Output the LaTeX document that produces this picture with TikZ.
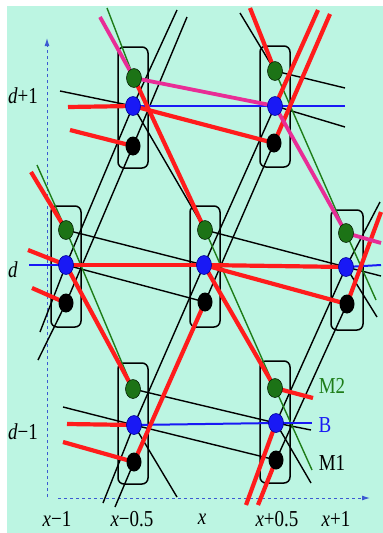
\documentclass[tikz,border=0pt]{standalone}
\usepackage{fontspec}
\usepackage{graphicx}
\setmainfont{Liberation Serif}
\usetikzlibrary{calc,arrows.meta,shapes.geometric}
\definecolor{bgc}{RGB}{188,245,226}
\definecolor{myred}{RGB}{255,28,28}
\definecolor{mypink}{RGB}{232,45,150}
\definecolor{mygreen}{RGB}{30,125,25}
\definecolor{dotgreen}{RGB}{28,115,22}
\definecolor{myblue}{RGB}{25,25,245}
\definecolor{axisblue}{RGB}{60,90,210}
\newcommand{\lbl}[1]{\scalebox{1}[1.2]{#1}}
\begin{document}
\begin{tikzpicture}[x=1pt,y=-1pt,
  thinb/.style={line width=1.4pt, black},
  thing/.style={line width=1.4pt, mygreen},
  thinu/.style={line width=2pt, myblue},
  redl/.style={line width=4.2pt, myred},
  pinkl/.style={line width=3.8pt, mypink},
  grpbox/.style={draw, line width=1.5pt, rounded corners=6pt, minimum width=30pt, minimum height=121pt, inner sep=0pt},
  dotn/.style={ellipse, minimum width=15pt, minimum height=19pt, inner sep=0pt},
  gdot/.style={dotn, fill=dotgreen, draw=black!70!dotgreen, line width=0.6pt},
  udot/.style={dotn, fill=myblue, draw=blue!60!black, line width=0.6pt},
  kdot/.style={dotn, fill=black},
  axisl/.style={line width=1pt, axisblue, dash pattern=on 3pt off 3pt, -{Latex[length=8pt,width=5pt]}},
  txt/.style={font=\fontsize{19}{19}\selectfont, inner sep=0pt}
]
% background
\fill[white] (0,0) rectangle (383,533);
\fill[bgc] (7,6) rectangle (383,533);
\useasboundingbox (0,0) rectangle (383,533);

% axes
\coordinate (ax0) at (47,497);
\coordinate (ax1) at (47,38);
\coordinate (ay0) at (58,498);
\coordinate (ay1) at (370,498);
\draw[axisl] (ax0) -- (ax1);
\draw[axisl] (ay0) -- (ay1);

% group centres (g = M2 green, b = B blue, k = M1 black)
\coordinate (TLg) at (134,78);  \coordinate (TLb) at (133,106); \coordinate (TLk) at (133,146);
\coordinate (TRg) at (275,71);  \coordinate (TRb) at (275,106); \coordinate (TRk) at (274,143);
\coordinate (Lg) at (66,230);   \coordinate (Lb) at (66,265);   \coordinate (Lk) at (66,303);
\coordinate (Mg) at (205,230);  \coordinate (Mb) at (204,265);  \coordinate (Mk) at (205,302);
\coordinate (Rg) at (346,233);  \coordinate (Rb) at (346,267);  \coordinate (Rk) at (347,304);
\coordinate (Pg) at (133,389);  \coordinate (Pb) at (134,425);  \coordinate (Pk) at (134,462);
\coordinate (Qg) at (275,388);  \coordinate (Qb) at (276,423);  \coordinate (Qk) at (276,460);

% boxes
\node[grpbox] (TLbox) at (133,107.5) {};
\node[grpbox] (TRbox) at (275,106.5) {};
\node[grpbox] (Lbox) at (66,266.5) {};
\node[grpbox] (Mbox) at (205,266.5) {};
\node[grpbox, minimum width=32pt, minimum height=120pt] (Rbox) at (347,270) {};
\node[grpbox] (Pbox) at (133,423.5) {};
\node[grpbox, minimum height=122pt] (Qbox) at (275,422) {};

% stub ends
\coordinate (h1) at (60,91);   \coordinate (h2) at (68,107);  \coordinate (h3) at (70,130);
\coordinate (h4) at (345,88);  \coordinate (h5) at (345,106); \coordinate (h6) at (345,127);
\coordinate (h7) at (28,250);  \coordinate (h8) at (29,265);  \coordinate (h9) at (32,288);
\coordinate (h10) at (381,243); \coordinate (h11) at (381,265); \coordinate (h12) at (381,276);
\coordinate (h13) at (63,407); \coordinate (h14) at (67,424); \coordinate (h15) at (63,442);
\coordinate (h16) at (313,398); \coordinate (h17) at (312,423); \coordinate (h18) at (311,430);
\coordinate (r1) at (107,8);   \coordinate (r2) at (100,17);
\coordinate (r3) at (250,8);   \coordinate (r4) at (240,13);
\coordinate (r5) at (37,165);  \coordinate (r6) at (31,172);
\coordinate (r7) at (376,300); \coordinate (r8) at (377,317);
\coordinate (r9) at (177,497);
\coordinate (r10) at (312,470); \coordinate (r11) at (311,483);
\coordinate (u1) at (40,332);  \coordinate (u2) at (38,360);
\coordinate (u3) at (177,10);  \coordinate (u4) at (187,17);
\coordinate (u5) at (103,503); \coordinate (u6) at (115,507);
\coordinate (u7) at (318,10);  \coordinate (u8) at (330,14);
\coordinate (u9) at (246,505); \coordinate (u10) at (258,505);
\coordinate (u11) at (380,202); \coordinate (u12) at (381,212);

% thin black connectors
\draw[thinb] (h1) -- (TLb);
\draw[thinb] (TRg) -- (h4);
\draw[thinb] (TRb) -- (h6);
\draw[thinb] (Lg) -- (Mb);
\draw[thinb] (Lb) -- (Mk);
\draw[thinb] (Mg) -- (Rb);
\draw[thinb] (Rb) -- (h12);
\draw[thinb] (h13) -- (Pb);
\draw[thinb] (Pg) -- (Qb);
\draw[thinb] (Pb) -- (Qk);
\draw[thinb] (Qb) -- (h18);
\draw[thinb] (r4) -- (TRg);
\draw[thinb] (TLb) -- (Mg);
\draw[thinb] (Rb) -- (r8);
\draw[thinb] (Pb) -- (r9);
\draw[thinb] (Qb) -- (r11);
\draw[thinb] (u1) -- (Lb);
\draw[thinb] (u2) -- (Lk);
\draw[thinb] (Lb) -- (TLb);
\draw[thinb] (Lk) -- (TLk);
\draw[thinb] (TLb) -- (u3);
\draw[thinb] (TLk) -- (u4);
\draw[thinb] (u5) -- (Pb);
\draw[thinb] (u6) -- (Pk);
\draw[thinb] (Pb) -- (Mb);
\draw[thinb] (Mb) -- (TRb);
\draw[thinb] (Mk) -- (TRk);
\draw[thinb] (Qb) -- (Rb);
\draw[thinb] (Qk) -- (Rk);
\draw[thinb] (Rb) -- (u11);

% thin green connectors
\draw[thing] (r1) -- (TLg);
\draw[thing] (TRg) -- (Rg);
\draw[thing] (r5) -- (Lg);
\draw[thing] (Lg) -- (Pg);
\draw[thing] (Mg) -- (Qg);
\draw[thing] (Rg) -- (r7);
\draw[thing] (Qg) -- (r10);

% thin blue connectors
\draw[thinu] (TLb) -- (TRb);
\draw[thinu] (TRb) -- (h5);
\draw[thinu] (h8) -- (Lb);
\draw[thinu] (Rb) -- (h11);
\draw[thinu] (Pb) -- (Qb);
\draw[thinu] (Qb) -- (h17);

% red connectors
\draw[redl] (h2) -- (TLb);
\draw[redl] (h3) -- (TLk);
\draw[redl] (TLb) -- (TRk);
\draw[redl] (h7) -- (Lb);
\draw[redl] (h9) -- (Lk);
\draw[redl] (Lb) -- (Mb);
\draw[redl] (Mb) -- (Rb);
\draw[redl] (Mb) -- (Rk);
\draw[redl] (h14) -- (Pb);
\draw[redl] (h15) -- (Pk);
\draw[redl] (Qg) -- (h16);
\draw[redl] (r3) -- (TRg);
\draw[redl] (TLg) -- (Mg);
\draw[redl] (r6) -- (Lg);
\draw[redl] (Lb) -- (Pg);
\draw[redl] (Mb) -- (Qg);
\draw[redl] (Pk) -- (Mk);
\draw[redl] (TRb) -- (u7);
\draw[redl] (TRk) -- (u8);
\draw[redl] (u9) -- (Qb);
\draw[redl] (u10) -- (Qk);
\draw[redl] (Rk) -- (u12);

% pink connectors
\draw[pinkl] (r2) -- (TLg);
\draw[pinkl] (TLg) -- (TRb);
\draw[pinkl] (TRb) -- (Rg);
\draw[pinkl] (Rg) -- (h10);

% dots
\foreach \g in {TL,TR,L,M,R,P,Q}{
  \node[gdot] (d\g g) at (\g g) {};
  \node[udot] (d\g b) at (\g b) {};
  \node[kdot] (d\g k) at (\g k) {};
}

% labels
\node[txt] (ld1) at (23,96) {\lbl{\textit{d}+1}};
\node[txt] (ld0) at (13,270) {\lbl{\textit{d}}};
\node[txt] (ldm) at (23,432) {\lbl{\textit{d}−1}};
\node[txt] (lx1) at (57,519) {\lbl{\textit{x}−1}};
\node[txt] (lx2) at (132,519) {\lbl{\textit{x}−0.5}};
\node[txt] (lx3) at (202,519) {\lbl{\textit{x}}};
\node[txt] (lx4) at (277,519) {\lbl{\textit{x}+0.5}};
\node[txt] (lx5) at (336,519) {\lbl{\textit{x}+1}};
\node[txt, text=mygreen] (lM2) at (332,386) {\lbl{M2}};
\node[txt, text=myblue] (lB) at (325,425) {\lbl{B}};
\node[txt] (lM1) at (332,463) {\lbl{M1}};
\end{tikzpicture}
\end{document}
